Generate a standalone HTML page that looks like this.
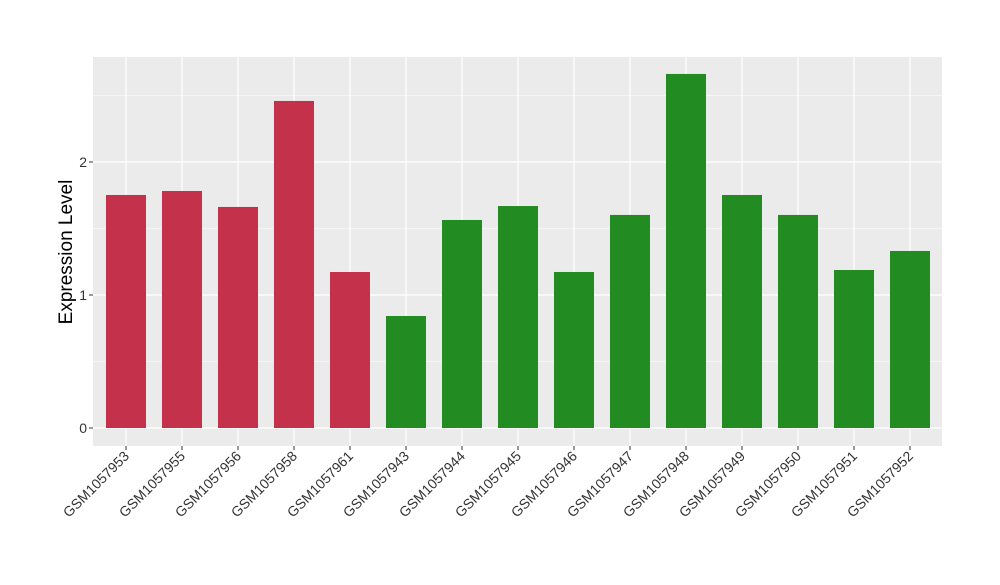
<!DOCTYPE html>
<html><head><meta charset="utf-8"><style>
body{margin:0;background:#fff;font-family:"Liberation Sans",Arial,sans-serif}
</style></head><body>
<svg id="chart" width="1000" height="580" xmlns="http://www.w3.org/2000/svg">
<rect x="0" y="0" width="1000" height="580" fill="#fff"/>
<rect x="93" y="57" width="849" height="389" fill="#ebebeb"/>
<g id="grid"></g><g id="bars"></g><g id="axes"></g>
<text x="72" y="252" transform="rotate(-90 72 252)" text-anchor="middle" font-size="19" fill="#000">Expression Level</text>
</svg>
<script>
const categories=["GSM1057953","GSM1057955","GSM1057956","GSM1057958","GSM1057961","GSM1057943","GSM1057944","GSM1057945","GSM1057946","GSM1057947","GSM1057948","GSM1057949","GSM1057950","GSM1057951","GSM1057952"];
const values=[1.752,1.782,1.662,2.459,1.173,0.842,1.564,1.669,1.173,1.602,2.662,1.752,1.602,1.188,1.331];
const groups=["a","a","a","a","a","b","b","b","b","b","b","b","b","b","b"];
const yTicks=[0,1,2];
const yMinor=[0.5,1.5,2.5];
const ns="http://www.w3.org/2000/svg";
const y=v=>428-v*133;
const x=i=>126+i*56;
const colors={a:"#c3314a",b:"#228b22"};
function mk(tag,attrs,parent){const e=document.createElementNS(ns,tag);for(const k in attrs)e.setAttribute(k,attrs[k]);parent.appendChild(e);return e;}
const grid=document.getElementById("grid"),bars=document.getElementById("bars"),axes=document.getElementById("axes");
yMinor.forEach(v=>{const l=mk("line",{x1:93,x2:942,y1:y(v),y2:y(v),stroke:"#fff","stroke-width":0.6},grid);

});
yTicks.forEach(v=>{const l=mk("line",{x1:93,x2:942,y1:y(v),y2:y(v),stroke:"#fff","stroke-width":1.2},grid);


const t=mk("line",{x1:89,x2:93,y1:y(v),y2:y(v),stroke:"#333","stroke-width":1},axes);


const tx=mk("text",{x:87,y:y(v)+5,"text-anchor":"end","font-size":14,fill:"#333"},axes);tx.textContent=v;

});
categories.forEach((c,i)=>{
const g=mk("line",{x1:x(i),x2:x(i),y1:57,y2:446,stroke:"#fff","stroke-width":1.2},grid);


const r=mk("rect",{x:x(i)-20,y:y(values[i]),width:40,height:y(0)-y(values[i]),fill:colors[groups[i]]},bars);


const t=mk("line",{x1:x(i),x2:x(i),y1:446,y2:450,stroke:"#333","stroke-width":1},axes);


const tx=mk("text",{x:x(i)+4,y:457,"text-anchor":"end","font-size":14,fill:"#333",transform:`rotate(-45 ${x(i)+4} 457)`},axes);tx.textContent=c;


});
</script>
</body></html>
